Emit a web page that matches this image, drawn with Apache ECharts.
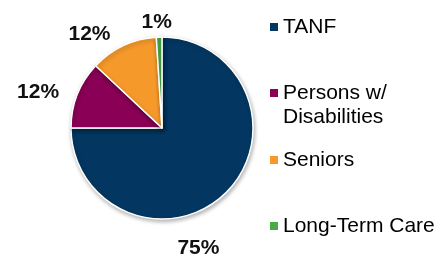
<!DOCTYPE html>
<html>
<head>
<meta charset="utf-8">
<script src="https://cdn.jsdelivr.net/npm/echarts@6/dist/echarts.min.js"></script>
<style>
  html, body { margin: 0; padding: 0; background: #fff; }
  #chart { width: 447px; height: 255px; }
</style>
</head>
<body>
<div id="chart"></div>
<script>
const categories = ['TANF', 'Persons w/ Disabilities', 'Seniors', 'Long-Term Care'];
const values = [75, 12, 12, 1];
const colors = ['#033761', '#8a0056', '#f6992b', '#4aa94a'];
const legendTops = [10, 76, 143, 209];
// nudges so the labels sit where the original placed them
const labelShift = [[-61, 49], [-9, 1], [13, -16], [18, -5]];

const chart = echarts.init(document.getElementById('chart'));

// square drawn at the top of a taller box, so it lines up with the first text line
const topSquare = 'path://M0,0H8V8H0Z M0,32H0.01';

const legends = categories.map((name, i) => {
  const twoLines = name.indexOf('w/ ') >= 0;
  return {
    data: [name],
    orient: 'vertical',
    left: 265,
    top: legendTops[i],
    icon: twoLines ? topSquare : 'rect',
    itemWidth: 8,
    itemHeight: twoLines ? 32 : 8,
    itemStyle: { borderWidth: 0, shadowBlur: 0, shadowOffsetX: 0, shadowOffsetY: 0 },
    selectedMode: false,
    formatter: n => n.replace('w/ ', 'w/\n'),
    textStyle: {
      fontFamily: 'Liberation Sans, Arial, sans-serif',
      fontSize: 21,
      lineHeight: 24,
      color: '#000'
    }
  };
});

chart.setOption({
  animation: false,
  color: colors,
  legend: legends,
  series: [{
    type: 'pie',
    center: [162, 128],
    radius: 91,
    startAngle: 90,
    clockwise: true,
    data: categories.map((name, i) => ({ name, value: values[i] })),
    itemStyle: {
      borderColor: '#fff',
      borderWidth: 1.5,
      shadowBlur: 4,
      shadowOffsetX: 1,
      shadowOffsetY: 2,
      shadowColor: 'rgba(0,0,0,0.3)'
    },
    label: {
      show: true,
      position: 'outside',
      formatter: '{c}%',
      fontFamily: 'Liberation Sans, Arial, sans-serif',
      fontSize: 21,
      fontWeight: 'bold',
      color: '#111'
    },
    labelLine: { show: false, length: 10, length2: 0 },
    labelLayout: p => ({ dx: labelShift[p.dataIndex][0], dy: labelShift[p.dataIndex][1] }),
    emphasis: { disabled: true }
  }]
});
</script>
</body>
</html>
